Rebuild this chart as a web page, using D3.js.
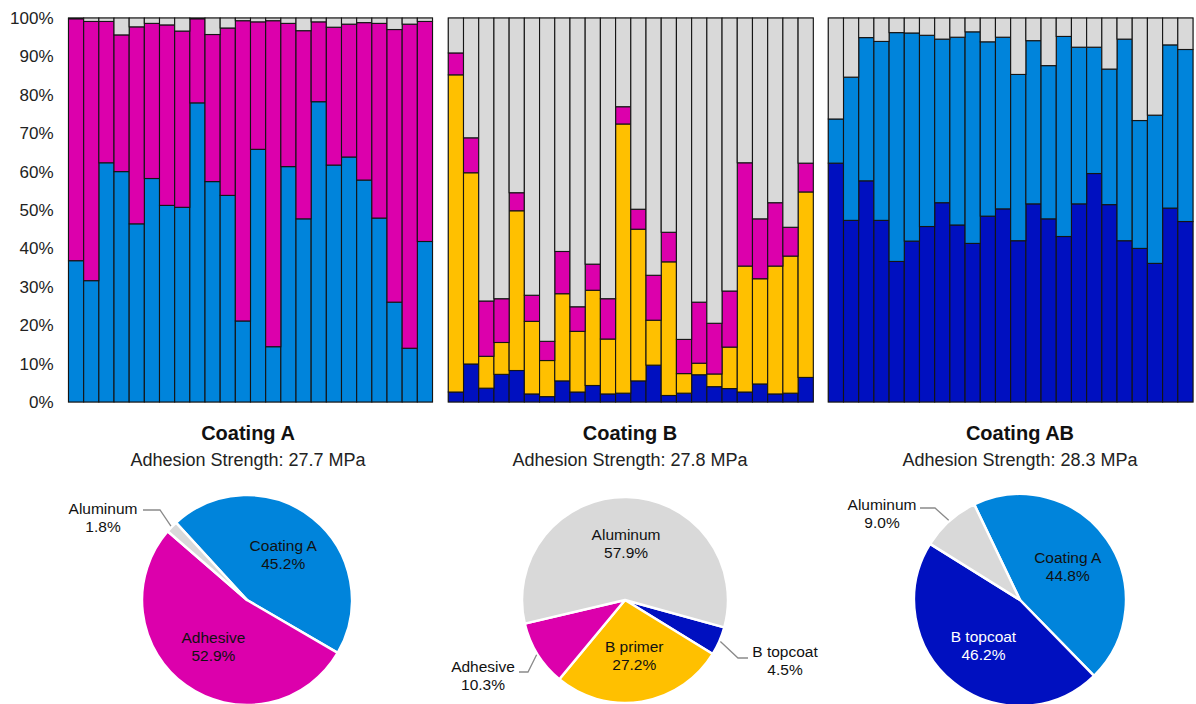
<!DOCTYPE html>
<html>
<head>
<meta charset="utf-8">
<script src="https://cdn.jsdelivr.net/npm/d3@7"></script>
<style>
  body { margin: 0; background: #fff; }
  svg { display: block; font-family: "Liberation Sans", Arial, Helvetica, sans-serif; }
</style>
</head>
<body>
<svg id="chart" width="1196" height="704"></svg>
<script>
// ---- Data ---------------------------------------------------------------
// Specimen numbers (one stacked bar per specimen)
const specimens = [1,2,3,4,5,6,7,8,9,10,11,12,13,14,15,16,17,18,19,20,21,22,23,24];

// Failure-mode area fractions (%) per specimen, Coating A
const aCoatingA = [36.8,31.6,62.3,60.0,46.4,58.2,51.2,50.7,77.9,57.4,53.8,21.1,65.8,14.4,61.3,47.7,78.2,61.7,63.8,57.8,47.9,26.0,14.0,41.8];
const aAdhesive = [63.0,67.5,36.8,35.6,51.3,40.4,47.0,45.9,21.9,38.3,43.6,78.2,33.2,84.9,37.3,49.0,20.8,35.9,34.6,41.0,50.7,71.0,84.4,57.3];
const aAluminum = [0.2,0.9,0.9,4.4,2.3,1.4,1.8,3.4,0.2,4.3,2.6,0.7,1.0,0.7,1.4,3.3,1.0,2.4,1.6,1.2,1.4,3.0,1.6,0.9];

// Coating B
const bTopcoat  = [2.6,9.9,3.6,7.2,8.2,2.1,1.4,5.5,2.6,4.3,2.1,2.3,5.5,9.6,1.7,2.3,7.1,4.0,3.5,2.6,4.7,2.1,2.3,6.4];
const bPrimer   = [82.6,49.8,8.3,8.3,41.6,18.9,9.4,22.7,15.8,24.8,14.3,70.1,39.5,11.7,34.8,5.1,3.0,3.3,10.8,32.8,27.4,33.3,35.7,48.3];
const bAdhesive = [5.7,9.1,14.4,11.4,4.7,6.8,5.0,11.0,6.4,6.8,10.5,4.5,5.2,11.7,7.7,8.9,15.9,13.2,14.6,26.9,15.6,16.5,7.5,7.5];
const bAluminum = [9.1,31.2,73.7,73.1,45.5,72.2,84.2,60.8,75.2,64.1,73.1,23.1,49.8,67.0,55.8,83.7,74.0,79.5,71.1,37.7,52.3,48.1,54.5,37.8];

// Coating AB
const abTopcoat  = [62.2,47.3,57.6,47.3,36.6,41.9,45.7,51.9,46.1,41.3,48.4,50.3,42.0,51.6,47.7,43.1,51.6,59.5,51.4,42.0,40.0,36.1,50.5,47.0];
const abCoatingA = [11.5,37.3,37.3,46.6,59.6,54.2,49.8,42.6,48.9,55.1,45.4,44.7,43.3,42.5,39.9,52.1,40.8,32.9,35.3,52.5,33.3,38.6,42.5,44.8];
const abAluminum = [26.3,15.4,5.1,6.1,3.8,3.9,4.5,5.5,5.0,3.6,6.2,5.0,14.7,5.9,12.4,4.8,7.6,7.6,13.3,5.5,26.7,25.3,7.0,8.2];

// Y-axis ticks (%)
const yTicks = [0,10,20,30,40,50,60,70,80,90,100];

// Overall failure-mode shares (%) shown in the pies
const pieANames  = ["Coating A","Adhesive","Aluminum"];
const pieAValues = [45.2,52.9,1.8];
const pieBNames  = ["B topcoat","B primer","Adhesive","Aluminum"];
const pieBValues = [4.5,27.2,10.3,57.9];
const pieABNames  = ["Coating A","B topcoat","Aluminum"];
const pieABValues = [44.8,46.2,9.0];

// Titles
const titles    = ["Coating A","Coating B","Coating AB"];
const strengths = [27.7,27.8,28.3];

// ---- Styles -------------------------------------------------------------
const colors = {
  "Coating A": "#0084DB",
  "Adhesive":  "#DC00AC",
  "Aluminum":  "#D9D9D9",
  "B primer":  "#FFC000",
  "B topcoat": "#0010C0"
};

const svg = d3.select("#chart");

const y = d3.scaleLinear().domain([0, 100]).range([402, 18]);

function table(keys, cols) {
  return specimens.map((s, i) => {
    const row = { specimen: s };
    keys.forEach((k, j) => row[k] = cols[j][i]);
    return row;
  });
}

const panels = [
  { x0: 68.5, x1: 432.5, keys: ["Coating A","Adhesive","Aluminum"], cols: [aCoatingA,aAdhesive,aAluminum], axis: true,
    cx: 248, pie: { names: pieANames, values: pieAValues, start: -42.6, cx: 247, cy: 600, r: 105,
      outside: { "Aluminum": { lx: -144, ly: -91, ex: -87, ey: -90, hx: -104 } }, white: [] } },
  { x0: 448.3, x1: 813.3, keys: ["B topcoat","B primer","Adhesive","Aluminum"], cols: [bTopcoat,bPrimer,bAdhesive,bAluminum], axis: false,
    cx: 630, pie: { names: pieBNames, values: pieBValues, start: 105.4, cx: 625, cy: 600, r: 103,
      outside: { "Adhesive": { lx: -142, ly: 67, ex: -97, ey: 72, hx: -106 },
                 "B topcoat": { lx: 160, ly: 52, ex: 113, ey: 58, hx: 123 } }, white: [] } },
  { x0: 828.3, x1: 1193, keys: ["B topcoat","Coating A","Aluminum"], cols: [abTopcoat,abCoatingA,abAluminum], axis: false,
    cx: 1020, pie: { names: pieABNames, values: pieABValues, start: -25.6, cx: 1020, cy: 600, r: 106,
      outside: { "Aluminum": { lx: -138, ly: -95, ex: -85, ey: -92, hx: -100 } }, white: ["B topcoat"] } }
];

panels.forEach((p, pi) => {
  const x = d3.scaleBand().domain(specimens).range([p.x0, p.x1]).padding(0);
  const g = svg.append("g");

  // plot-area frame
  g.append("rect")
    .attr("x", p.x0).attr("y", y(100))
    .attr("width", p.x1 - p.x0).attr("height", y(0) - y(100))
    .attr("fill", "#fff").attr("stroke", "#8c8c8c").attr("stroke-width", 1.2);

  const series = d3.stack().keys(p.keys)(table(p.keys, p.cols));
  g.selectAll("g.layer").data(series).join("g")
    .attr("class", "layer")
    .attr("fill", d => colors[d.key])
    .selectAll("rect").data(d => d).join("rect")
      .attr("x", d => x(d.data.specimen))
      .attr("y", d => y(d[1]))
      .attr("width", x.bandwidth())
      .attr("height", d => y(d[0]) - y(d[1]))
      .attr("stroke", "#141414")
      .attr("stroke-width", 1.1);

  if (p.axis) {
    const ax = g.append("g")
      .attr("transform", `translate(${p.x0},0)`)
      .call(d3.axisLeft(y).tickValues(yTicks).tickFormat(d => d + "%").tickSize(0).tickPadding(15));
    ax.select(".domain").remove();
    ax.selectAll("text")
      .attr("font-size", 17)
      .attr("font-family", '"Liberation Sans", Arial, sans-serif')
      .attr("fill", "#222");
  }

  // titles
  svg.append("text")
    .attr("x", p.cx).attr("y", 440)
    .attr("text-anchor", "middle")
    .attr("font-size", 20).attr("font-weight", "bold").attr("fill", "#111")
    .text(titles[pi]);
  svg.append("text")
    .attr("x", p.cx).attr("y", 465.5)
    .attr("text-anchor", "middle")
    .attr("font-size", 18).attr("fill", "#222")
    .text(`Adhesion Strength: ${strengths[pi].toFixed(1)} MPa`);

  // pie
  const q = p.pie;
  const pieData = q.names.map((n, i) => ({ name: n, value: q.values[i] }));
  const a0 = q.start * Math.PI / 180;
  const arcs = d3.pie().sort(null).value(d => d.value)
    .startAngle(a0).endAngle(a0 + 2 * Math.PI)(pieData);
  const arc = d3.arc().innerRadius(0).outerRadius(q.r);
  const labelArc = d3.arc().innerRadius(0).outerRadius(q.r * 1.1);

  const pg = svg.append("g").attr("transform", `translate(${q.cx},${q.cy})`);
  pg.selectAll("path").data(arcs).join("path")
    .attr("d", arc)
    .attr("fill", d => colors[d.data.name])
    .attr("stroke", "#fff")
    .attr("stroke-width", 2.5)
    .attr("stroke-linejoin", "round");

  arcs.forEach(d => {
    const name = d.data.name;
    const pct = d.data.value.toFixed(1) + "%";
    const o = q.outside[name];
    let lx, ly, fill = q.white.includes(name) ? "#fff" : "#111";
    if (o) {
      const mid = (d.startAngle + d.endAngle) / 2;
      const sx = Math.sin(mid) * (q.r + 1), sy = -Math.cos(mid) * (q.r + 1);
      pg.append("polyline")
        .attr("points", [[sx, sy], [o.ex, o.ey], [o.hx, o.ey]].map(pt => pt.join(",")).join(" "))
        .attr("fill", "none").attr("stroke", "#8a8a8a").attr("stroke-width", 1.3);
      lx = o.lx; ly = o.ly;
    } else {
      const c = labelArc.centroid(d);
      lx = c[0]; ly = c[1] - 9;
    }
    const t = pg.append("text")
      .attr("text-anchor", "middle")
      .attr("font-size", 15.5)
      .attr("fill", fill);
    t.append("tspan").attr("x", lx).attr("y", ly).attr("dy", "0.35em").text(name);
    t.append("tspan").attr("x", lx).attr("y", ly + 18).attr("dy", "0.35em").text(pct);
  });
});
</script>
</body>
</html>
